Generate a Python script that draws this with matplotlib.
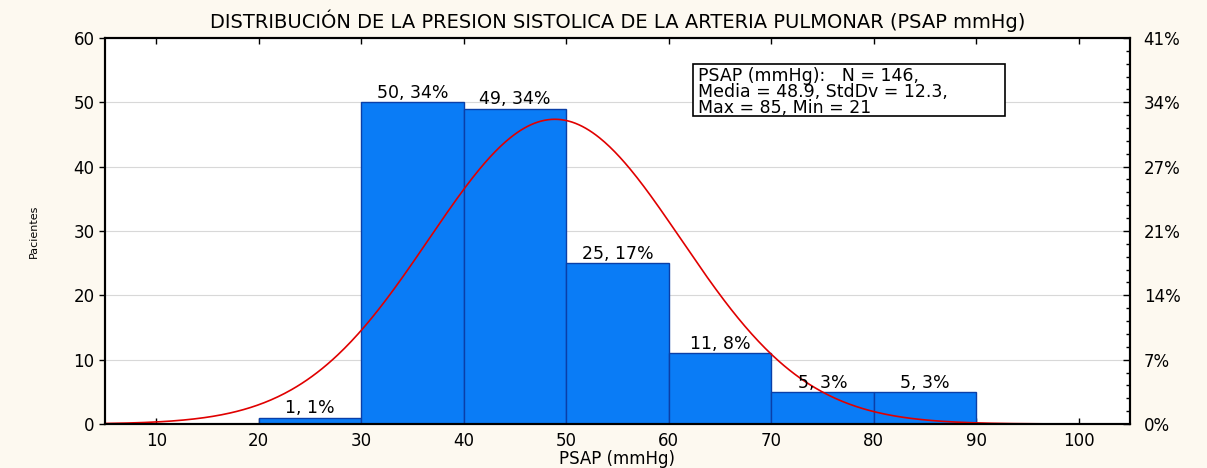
import numpy as np
import matplotlib
matplotlib.use("Agg")
import matplotlib.pyplot as plt
from matplotlib.ticker import MultipleLocator
from matplotlib.patches import Rectangle

# Data
bin_edges = [20, 30, 40, 50, 60, 70, 80, 90]
counts = [1, 50, 49, 25, 11, 5, 5]
n_total = 146
mean_val = 48.9
std_val = 12.3
max_val = 85
min_val = 21
x_ticks = [10, 20, 30, 40, 50, 60, 70, 80, 90, 100]
y_ticks = [0, 10, 20, 30, 40, 50, 60]
title = "DISTRIBUCIÓN DE LA PRESION SISTOLICA DE LA ARTERIA PULMONAR (PSAP mmHg)"

plt.rcParams['font.family'] = ['DejaVu Sans']

bg = '#fdf9f0'
fig = plt.figure(figsize=(12.07, 4.68), dpi=100, facecolor=bg)
ax = fig.add_axes([0.087, 0.094, 0.849, 0.825])
ax.set_facecolor('white')

lefts = bin_edges[:-1]
widths = np.diff(bin_edges)
ax.bar(lefts, counts, width=widths, align='edge', color='#0a7cf6',
       edgecolor='#0a3fa8', linewidth=1.0, zorder=2)

for l, w, c in zip(lefts, widths, counts):
    pct = round(c / n_total * 100)
    ax.text(l + w / 2, c + 0.05, f"{c}, {pct}%", ha='center', va='bottom',
            fontsize=12.5, color='black', zorder=4)

# Fitted normal curve from stated mean / std
bw = 10
xs = np.linspace(5, 105, 600)
ys = n_total * bw / (std_val * np.sqrt(2 * np.pi)) * np.exp(-0.5 * ((xs - mean_val) / std_val) ** 2)
ax.plot(xs, ys, color='#e00000', linewidth=1.2, zorder=3)

ax.set_xlim(5, 105)
ax.set_ylim(0, 60)
ax.set_xticks(x_ticks)
ax.set_yticks(y_ticks)
ax.tick_params(axis='x', direction='in', top=True, labelsize=12, length=4, width=1, pad=6)
ax.tick_params(axis='y', direction='out', labelsize=12, length=4, width=1)
ax.yaxis.grid(True, color='#d8d8d8', linewidth=0.8, zorder=0)
ax.set_axisbelow(True)
for s in ax.spines.values():
    s.set_linewidth(1.5)

ax2 = ax.twinx()
ax2.set_ylim(0, 60)
ax2.set_yticks(y_ticks)
ax2.set_yticklabels([f"{round(v / n_total * 100)}%" for v in y_ticks])
ax2.yaxis.set_minor_locator(MultipleLocator(2))
ax2.tick_params(axis='y', which='major', direction='in', labelsize=12, length=5, width=1, pad=10)
ax2.tick_params(axis='y', which='minor', direction='in', length=3, width=1)
for s in ax2.spines.values():
    s.set_linewidth(1.5)

ax.set_xlabel("PSAP (mmHg)", fontsize=12)
ax.xaxis.set_label_coords(0.5, -0.068)
ax.set_ylabel("Pacientes", fontsize=8)
ax.yaxis.set_label_coords(-0.065, 0.5)
ax.set_title(title, fontsize=14, pad=7)

# Statistics box
bx0, bx1 = (693 - 105) / 1025, (1005 - 105) / 1025
by1, by0 = 1 - (64 - 38) / 386, 1 - (116 - 38) / 386
ax.add_patch(Rectangle((bx0, by0), bx1 - bx0, by1 - by0, transform=ax.transAxes,
                       facecolor='white', edgecolor='black', linewidth=1.2, zorder=5))
box_text = (f"PSAP (mmHg):   N = {n_total},\n"
            f"Media = {mean_val}, StdDv = {std_val},\n"
            f"Max = {max_val}, Min = {min_val}")
ax.text(bx0 + 0.005, (by0 + by1) / 2 - 0.005, box_text, transform=ax.transAxes, ha='left', va='center',
        fontsize=12.5, linespacing=0.85, zorder=6)

fig.savefig("out.png", dpi=100, facecolor=bg)
